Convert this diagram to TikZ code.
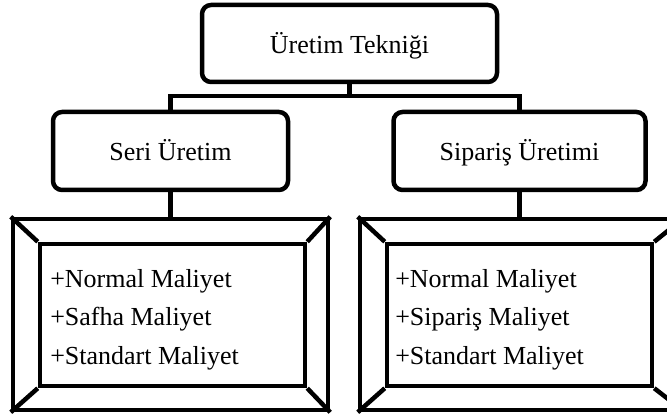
\documentclass[tikz,border=0pt]{standalone}
\usepackage{fontspec}
\setmainfont{Liberation Serif}
\begin{document}
\begin{tikzpicture}[x=1pt,y=-1pt,line width=4.5pt,
  headbox/.style={draw, rounded corners=9pt, minimum width=#1, minimum height=78pt,
    inner sep=0pt, text height=20pt, text depth=0pt, font=\fontsize{26}{30}\selectfont},
  framebox/.style={draw, inner sep=0pt, minimum width=#1, minimum height=191pt},
  panebox/.style={draw, inner sep=0pt, minimum width=265pt, minimum height=142pt},
  listtext/.style={align=left, inner sep=0pt, anchor=north west,
    font=\fontsize{26}{38.5}\selectfont}]
\fill[white] (0,0) rectangle (667,414);
\useasboundingbox (0,0) rectangle (667,414);
\clip (0,0) rectangle (667,414);

% tree heads
\node[headbox=295pt, minimum height=77pt] (top) at (349.5,43.5) {Üretim Tekniği};
\node[headbox=235pt] (seri) at (170.5,151) {Seri Üretim};
\node[headbox=252pt] (siparis) at (519.5,151) {Sipariş Üretimi};

% bevelled frames
\node[framebox=315pt] (fL) at (170.5,314.5) {};
\node[panebox] (fLi) at (172.5,315) {};
\node[framebox=323pt] (fR) at (521.5,314.5) {};
\node[panebox] (fRi) at (519.5,315) {};
\foreach \c in {north west,north east,south west,south east}{
  \draw (fL.\c) -- (fLi.\c);
  \draw (fR.\c) -- (fRi.\c);
}

% lists
\node[listtext] (lL) at (48,267) {+Normal Maliyet\\+Safha Maliyet\\+Standart Maliyet};
\node[listtext] (lR) at (393,267) {+Normal Maliyet\\+Sipariş Maliyet\\+Standart Maliyet};

% connectors
\coordinate (jn) at (349.5,96);
\draw (top.south) -- (jn);
\draw (seri.north) |- (jn) -| (siparis.north);
\draw (seri.south) -- (fL.north -| seri.south);
\draw (siparis.south) -- (fR.north -| siparis.south);
\end{tikzpicture}
\end{document}
